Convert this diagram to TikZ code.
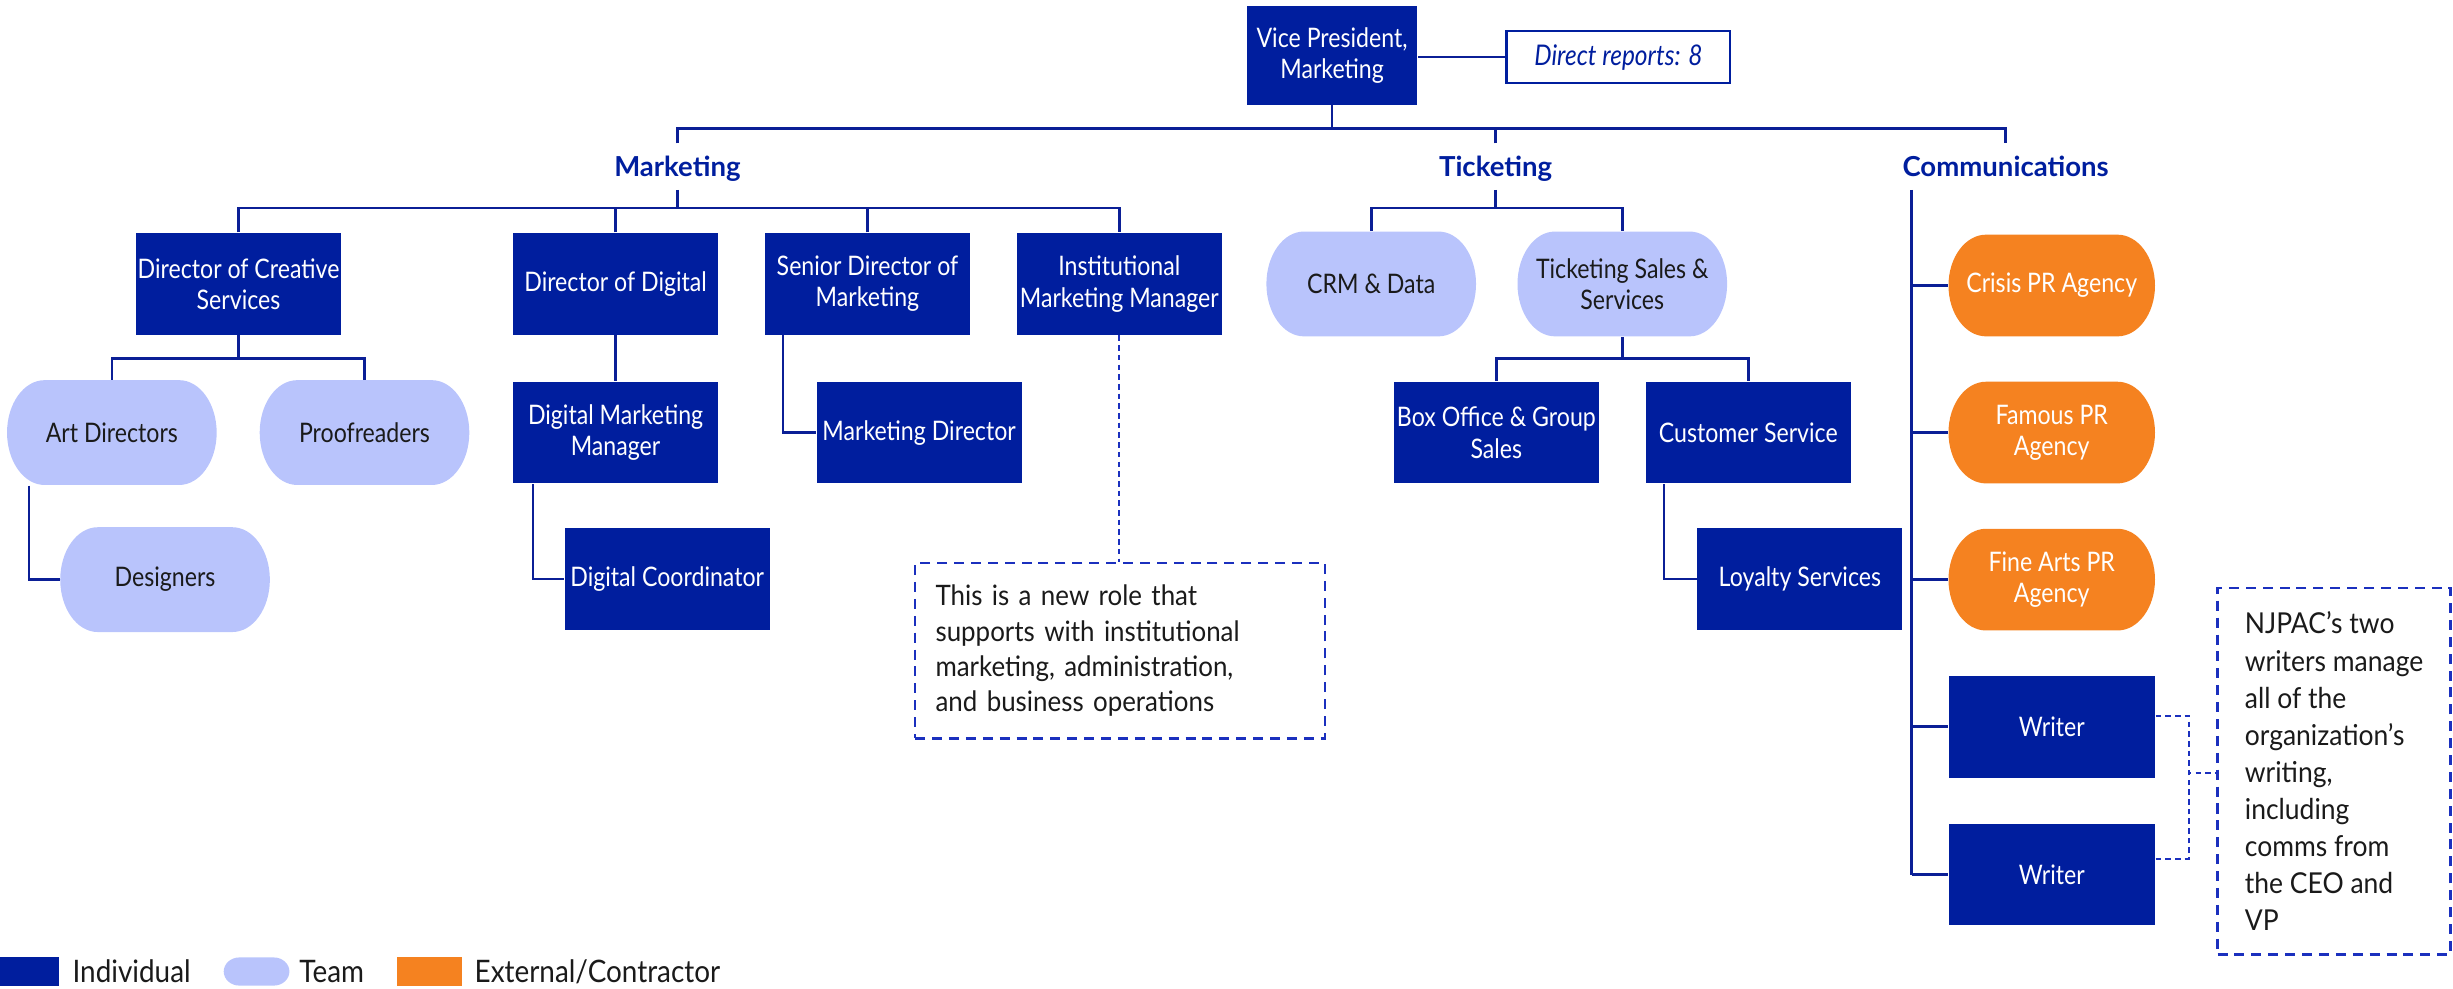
\documentclass[tikz,border=0pt]{standalone}
\usepackage{fontspec}
\setmainfont{Lato}
\newfontfamily\boxfam{Lato}[FakeStretch=0.86]
\newfontfamily\legfam{Lato}[FakeStretch=0.9]
\newfontfamily\notefam{Lato}[FakeStretch=0.92]
\definecolor{indblue}{HTML}{001E9E}
\definecolor{teamlav}{HTML}{B9C4FC}
\definecolor{extorange}{HTML}{F58220}
\definecolor{linkblue}{HTML}{0B1F96}
\definecolor{noteblue}{HTML}{1B30BE}
\definecolor{inkgrey}{HTML}{1A1A1A}

\tikzset{
  % rounded-end background: colour, x radius, y radius
  pill/.style n args={3}{path picture={
    \fill[#1] ([xshift=#2]path picture bounding box.south west)
      -- ([xshift=-#2]path picture bounding box.south east)
      arc[start angle=-90,end angle=90,x radius=#2,y radius=#3]
      -- ([xshift=#2]path picture bounding box.north west)
      arc[start angle=90,end angle=270,x radius=#2,y radius=#3] -- cycle;}},
  link/.style={draw=linkblue, line width=0.85pt},
  dotlink/.style={draw=noteblue, line width=0.55pt, dash pattern=on 1.8pt off 1.3pt},
  notebox/.style={draw=noteblue, line width=0.8pt, dash pattern=on 3.2pt off 2.2pt,
    align=left, text=inkgrey, inner ysep=0pt},
  boxtext/.style={font=\boxfam\fontsize{8.6}{10}\selectfont, align=center, inner sep=0pt},
  indiv/.style={boxtext, fill=indblue, text=white, minimum width=65.5pt, minimum height=32.5pt},
  team/.style={boxtext, text=inkgrey, minimum width=67pt, minimum height=33.5pt,
    pill={teamlav}{12pt}{16.75pt}},
  extern/.style={boxtext, text=white, minimum width=66pt, minimum height=32.5pt,
    pill={extorange}{12pt}{16.25pt}},
  drbox/.style={draw=indblue, line width=0.7pt, fill=white, text=indblue,
    font=\boxfam\itshape\fontsize{9.1}{10}\selectfont,
    minimum width=71.5pt, minimum height=16.5pt, inner sep=0pt},
  grp/.style={font=\bfseries\fontsize{8.8}{10}\selectfont, text=indblue, anchor=base,
    text height=6.5pt, text depth=0pt, inner ysep=4pt, inner xsep=0pt},
  legtext/.style={font=\legfam\fontsize{9.9}{11}\selectfont, text=inkgrey,
    anchor=base west, inner sep=0pt},
}

\begin{document}
\begin{tikzpicture}[x=0.5pt,y=-0.5pt]
\useasboundingbox (0,0) rectangle (1568,632);

% ---- top level ----
\node[indiv, minimum width=54.5pt, minimum height=31.5pt] (vp) at (851.5,35.5) {Vice President,\\Marketing};
\node[drbox] (dr) at (1034.5,36.5) {Direct reports: 8};
\draw[draw=linkblue, line width=0.6pt] (dr.west -| vp.east) -- (dr.west);

\node[grp] (mkt) at (433,113) {Marketing};
\node[grp] (tkt) at (956,113) {Ticketing};
\node[grp] (comm) at (1282,113) {Communications};

\coordinate (topbar) at (0,82);
\draw[link] (vp.south) -- (vp.south |- topbar);
\draw[link] (mkt.north) -- (mkt.north |- topbar) -| (comm.north);
\draw[link] (tkt.north) -- (tkt.north |- topbar);

% ---- marketing ----
\node[indiv] (dcs) at (152.5,181.5) {Director of Creative\\Services};
\node[indiv] (dd) at (393.5,181.5) {Director of Digital};
\node[indiv] (sdm) at (554.5,181.5) {Senior Director of\\Marketing};
\node[indiv] (imm) at (715.5,181.5) {Institutional\\Marketing Manager};

\coordinate (mbar) at (0,133);
\draw[link] (mkt.south) -- (mkt.south |- mbar);
\draw[link] (dcs.north) -- (dcs.north |- mbar) -| (imm.north);
\draw[link] (dd.north) -- (dd.north |- mbar);
\draw[link] (sdm.north) -- (sdm.north |- mbar);

\node[team] (ad) at (71.5,276.5) {Art Directors};
\node[team] (pf) at (233,276.5) {Proofreaders};
\node[team] (des) at (105.5,370.5) {Designers};
\coordinate (cbar) at (0,229);
\draw[link] (dcs.south) -- (dcs.south |- cbar);
\draw[link] (ad.north) -- (ad.north |- cbar) -| (pf.north);
\draw[link] ([xshift=7.25pt]ad.south west) |- (des.west);

\node[indiv] (dmm) at (393.5,276.5) {Digital Marketing\\Manager};
\node[indiv] (dc) at (426.5,370) {Digital Coordinator};
\draw[link] (dd.south) -- (dmm.north);
\draw[link] ([xshift=6.5pt]dmm.south west) |- (dc.west);

\node[indiv] (md) at (587.5,276.5) {Marketing Director};
\draw[link] ([xshift=6pt]sdm.south west) |- (md.west);

\node[notebox, text width=118pt, inner xsep=6.5pt, minimum height=56pt,
  font=\notefam\fontsize{9}{11.25}\selectfont] (newrole) at (716,416)
  {This is a new role that\\supports with institutional\\marketing, administration,\\and business operations};
\draw[dotlink] (imm.south) -- (imm.south |- newrole.north);

% ---- ticketing ----
\node[team] (crm) at (876.5,181.5) {CRM \& Data};
\node[team] (tss) at (1037,181.5) {Ticketing Sales \&\\Services};
\coordinate (tbar) at (0,133);
\draw[link] (tkt.south) -- (tkt.south |- tbar);
\draw[link] (crm.north) -- (crm.north |- tbar) -| (tss.north);

\node[indiv] (bo) at (956.5,276.5) {Box Office \& Group\\Sales};
\node[indiv] (cs) at (1117.5,276.5) {Customer Service};
\coordinate (sbar) at (0,229);
\draw[link] (tss.south) -- (tss.south |- sbar);
\draw[link] (bo.north) -- (bo.north |- sbar) -| (cs.north);

\node[indiv] (ls) at (1150.5,370) {Loyalty Services};
\draw[link] ([xshift=6pt]cs.south west) |- (ls.west);

% ---- communications ----
\node[extern] (crisis) at (1311.5,182.5) {Crisis PR Agency};
\node[extern] (famous) at (1311.5,276.5) {Famous PR\\Agency};
\node[extern] (finearts) at (1311.5,370.5) {Fine Arts PR\\Agency};
\node[indiv, minimum width=66pt] (w1) at (1311.5,464.5) {Writer};
\node[indiv, minimum width=66pt] (w2) at (1311.5,559) {Writer};

\coordinate (spine) at (1222,0);
\draw[link] (spine |- comm.south) -- (spine |- w2.west);
\foreach \n in {crisis,famous,finearts,w1,w2}
  \draw[link] (spine |- \n.west) -- (\n.west);

\node[notebox, inner xsep=0pt, minimum width=74.5pt, minimum height=117pt,
  font=\notefam\fontsize{9.2}{11.85}\selectfont] (writenote) at (1492,493)
  {NJPAC’s two\\writers manage\\all of the\\organization’s\\writing,\\including\\comms from\\the CEO and\\VP};

\coordinate (wj) at (1399,494);
\draw[dotlink] ([yshift=3.5pt]w1.east) -| (wj) -- (wj -| writenote.west);
\draw[dotlink] ([yshift=5pt]w2.east) -| (wj);

% ---- legend ----
\node[indiv, minimum width=19pt, minimum height=9pt] (legind) at (19,621) {};
\node[legtext] (legindt) at (46,628) {Individual};
\node[team, minimum width=21pt, minimum height=9pt, pill={teamlav}{5pt}{4.5pt}] (legteam) at (164,621) {};
\node[legtext] (legteamt) at (191,628) {Team};
\node[fill=extorange, minimum width=20.5pt, minimum height=9pt, inner sep=0pt] (legext) at (274.5,621) {};
\node[legtext] (legextt) at (303,628) {External/Contractor};
\end{tikzpicture}
\end{document}
